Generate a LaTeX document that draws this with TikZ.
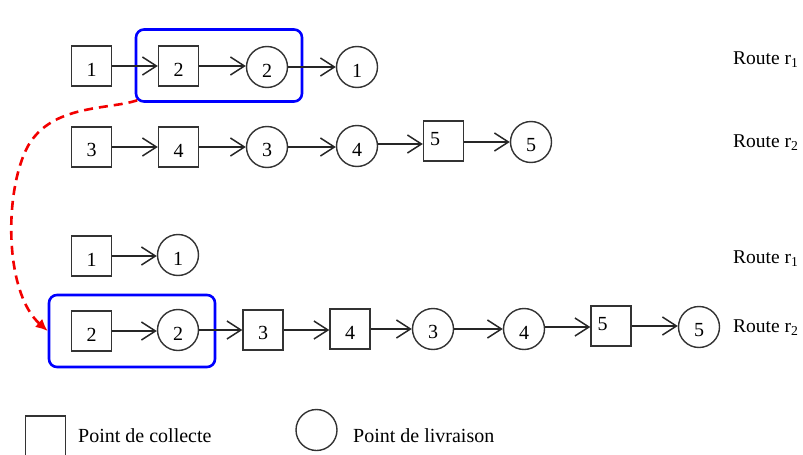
\documentclass[tikz,border=0pt]{standalone}
\usepackage{fontspec}
\setmainfont{Liberation Serif}
\usetikzlibrary{arrows.meta,calc}
\begin{document}
\begin{tikzpicture}[x=1pt,y=-1pt,
  pt/.style={draw=black!80,line width=1.4pt,font=\fontsize{20}{20}\selectfont,inner sep=0pt,text height=20pt},
  sq/.style={pt,rectangle,minimum size=40pt},
  ci/.style={pt,circle,minimum size=41pt},
  arr/.style={draw=black!85,line width=1.5pt,-{Straight Barb[length=14pt,width=18pt]}},
  lab5/.style={label={[anchor=north west,inner sep=0pt,xshift=7pt,yshift=-12pt,font=\fontsize{20}{20}\selectfont]north west:5}},
  bluebox/.style={draw=blue,line width=2.6pt,rounded corners=8pt,inner sep=0pt},
  route/.style={anchor=base west,inner sep=0pt,font=\fontsize{19.5}{19.5}\selectfont},
  legend/.style={anchor=base west,inner sep=0pt,font=\fontsize{20}{20}\selectfont},
  redarr/.style={draw=red!95!black,line width=2.6pt,dash pattern=on 9pt off 6pt,-{Latex[length=12pt,width=11pt]}}
]
\useasboundingbox (0,0) rectangle (803,455);
% row 1
\node[bluebox,minimum width=166pt,minimum height=72pt] (b1) at (219,65.5) {};
\node[sq] (a1) at (91.5,66) {1};
\node[sq] (a2) at (178.5,66) {2};
\node[ci] (a3) at (267,67) {2};
\node[ci] (a4) at (357,67) {1};
\draw[arr] (a1.east) -- (a1.east -| a2.west);
\draw[arr] (a2.east) -- (a2.east -| a3.west);
\draw[arr] (a3.east) -- (a3.east -| a4.west);
\node[route] (t1) at (733,64) {Route r\textsubscript{1}};
% row 2
\node[sq] (c1) at (91.5,147) {3};
\node[sq] (c2) at (178.5,147) {4};
\node[ci] (c3) at (267,147) {3};
\node[ci] (c4) at (357,146) {4};
\node[sq,lab5] (c5) at (443.5,141) {};
\node[ci] (c6) at (531,142) {5};
\draw[arr] (c1.east) -- (c1.east -| c2.west);
\draw[arr] (c2.east) -- (c2.east -| c3.west);
\draw[arr] (c3.east) -- (c3.east -| c4.west);
\draw[arr] ([yshift=2pt]c4.east) -- ([yshift=2pt]c4.east -| c5.west);
\draw[arr] ([yshift=-1pt]c5.east) -- ([yshift=-1pt]c5.east -| c6.west);
\node[route] (t2) at (733,147) {Route r\textsubscript{2}};
% row 3
\node[sq] (d1) at (91.5,256) {1};
\node[ci] (d2) at (178,255) {1};
\draw[arr] (d1.east) -- (d1.east -| d2.west);
\node[route] (t3) at (733,263) {Route r\textsubscript{1}};
% row 4
\node[bluebox,minimum width=166pt,minimum height=72pt] (b2) at (132,331) {};
\node[sq] (e1) at (91.5,331) {2};
\node[ci] (e2) at (178,330) {2};
\node[sq] (e3) at (263,330) {3};
\node[sq] (e4) at (350,329) {4};
\node[ci] (e5) at (433,329) {3};
\node[ci] (e6) at (524,329) {4};
\node[sq,lab5] (e7) at (611,326) {};
\node[ci] (e8) at (699,327) {5};
\draw[arr] (e1.east) -- (e1.east -| e2.west);
\draw[arr] (e2.east) -- (e2.east -| e3.west);
\draw[arr] (e3.east) -- (e3.east -| e4.west);
\draw[arr] (e4.east) -- (e4.east -| e5.west);
\draw[arr] (e5.east) -- (e5.east -| e6.west);
\draw[arr] ([yshift=2pt]e6.east) -- ([yshift=2pt]e6.east -| e7.west);
\draw[arr] (e7.east) -- (e7.east -| e8.west);
\node[route] (t4) at (733,332) {Route r\textsubscript{2}};
% moved pair
\draw[redarr] ([shift={(2.5,-2.5)}]b1.south west) .. controls (108,110) and (52,104) .. (28,146)
   .. controls (4,190) and (4,292) .. (b2.west);
% legend
\node[sq] (l1) at (45.5,436) {};
\node[legend] (l1t) at (78,442) {Point de collecte};
\node[ci] (l2) at (316.5,430) {};
\node[legend] (l2t) at (353,442) {Point de livraison};
\end{tikzpicture}
\end{document}
